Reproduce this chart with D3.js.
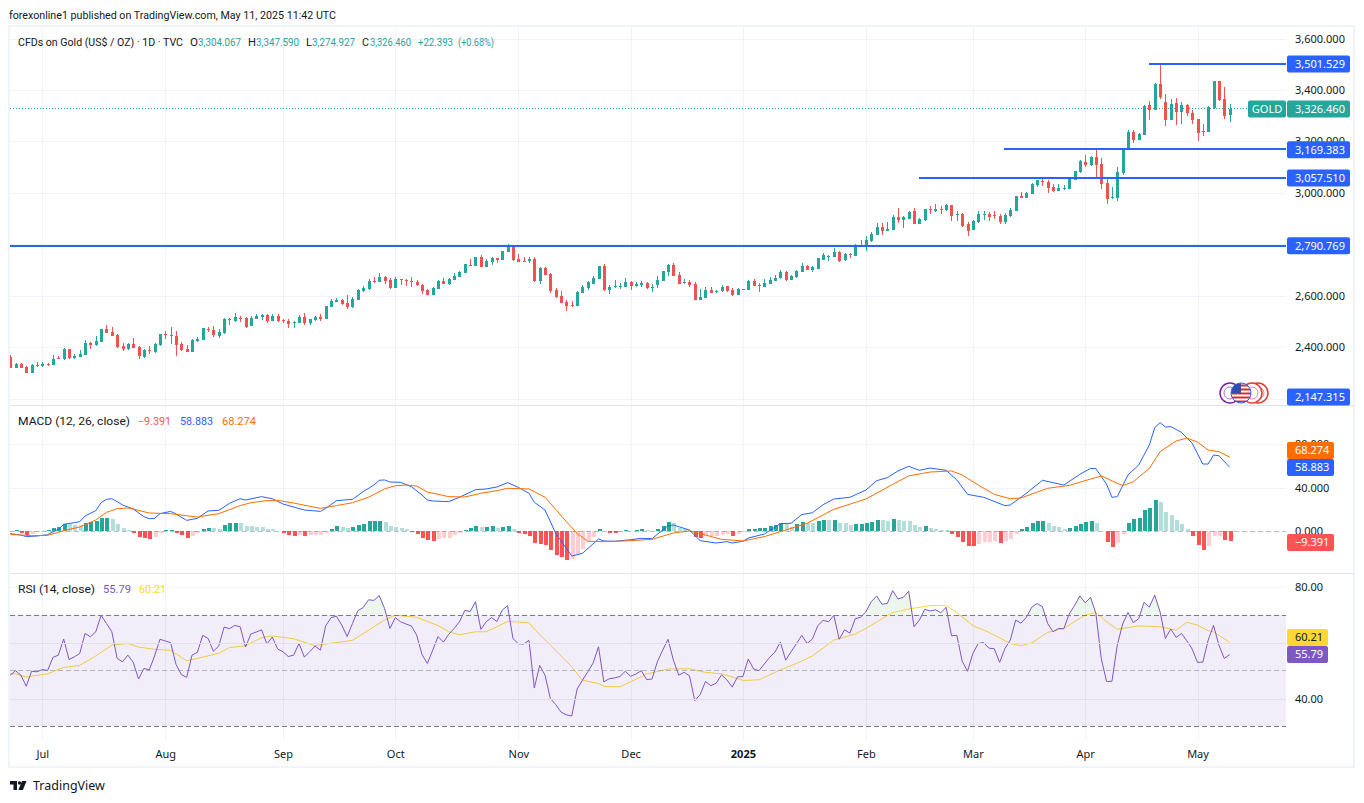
<!DOCTYPE html>
<html>
<head>
<meta charset="utf-8">
<style>
  body { margin: 0; background: #fff; }
  svg { display: block; }
  text { font-family: "Noto Sans", sans-serif; font-size: 11px; fill: #131722; }
  text.legend { font-family: Roboto, sans-serif; }
  .grid path, .tick-labels path { display: none; }
  .grid line { stroke: #f0f3fa; shape-rendering: crispEdges; }
  .tick-labels line { display: none; }
  .crisp { shape-rendering: crispEdges; }
</style>
<script src="https://d3js.org/d3.v7.min.js"></script>
</head>
<body>
<div id="chart"></div>
<script>
const opens = [
  2362,2321,2334,2322,2298,2331,2328,2335,2329,2359,
  2355,2393,2359,2362,2370,2417,2409,2421,2471,2460,
  2448,2405,2393,2413,2401,2362,2390,2382,2409,2452,
  2448,2444,2413,2393,2382,2425,2428,2471,2467,2444,
  2456,2510,2502,2514,2514,2483,2510,2518,2526,2502,
  2522,2506,2502,2494,2494,2518,2494,2506,2518,2510,
  2557,2576,2585,2572,2557,2584,2619,2626,2657,2654,
  2673,2661,2630,2665,2663,2657,2654,2642,2623,2603,
  2626,2657,2646,2661,2673,2689,2720,2716,2751,2712,
  2731,2747,2739,2770,2793,2743,2735,2735,2743,2657,
  2708,2685,2623,2599,2576,2566,2560,2611,2630,2646,
  2665,2716,2623,2634,2635,2634,2654,2638,2642,2650,
  2633,2642,2657,2692,2720,2681,2650,2654,2646,2584,
  2592,2623,2616,2619,2638,2623,2603,2624,2623,2657,
  2643,2634,2646,2657,2669,2692,2661,2673,2692,2716,
  2700,2704,2739,2753,2751,2770,2739,2762,2755,2795,
  2793,2813,2836,2867,2852,2855,2906,2894,2898,2929,
  2879,2894,2937,2929,2937,2933,2953,2914,2918,2879,
  2856,2887,2914,2918,2914,2910,2887,2910,2929,2988,
  2980,2995,3030,3046,3043,3023,3007,3015,3015,3050,
  3081,3120,3108,3139,3112,3038,2980,2980,3077,3170,
  3236,3205,3224,3341,3321,3422,3353,3283,3349,3314,
  3341,3310,3287,3237,3236,3329,3434,3364,3304.067
];
const highs = [
  2370,2338,2338,2328,2335,2343,2343,2339,2370,2366,
  2397,2393,2374,2390,2428,2421,2444,2471,2487,2479,
  2452,2417,2417,2436,2405,2393,2405,2417,2452,2463,
  2479,2463,2421,2409,2432,2440,2475,2479,2483,2471,
  2514,2514,2533,2522,2518,2522,2529,2529,2529,2529,
  2529,2510,2510,2502,2526,2533,2510,2522,2529,2560,
  2588,2592,2588,2603,2595,2626,2638,2665,2673,2689,
  2677,2669,2673,2665,2665,2673,2661,2646,2626,2634,
  2661,2669,2669,2689,2696,2723,2743,2751,2758,2743,
  2751,2747,2774,2801,2797,2762,2751,2751,2751,2712,
  2712,2689,2630,2619,2584,2580,2619,2642,2657,2677,
  2716,2723,2642,2661,2650,2669,2657,2654,2657,2654,
  2646,2677,2696,2723,2727,2692,2665,2661,2654,2626,
  2634,2634,2623,2642,2638,2630,2630,2626,2661,2665,
  2650,2665,2673,2681,2700,2696,2681,2700,2727,2720,
  2716,2747,2766,2758,2786,2774,2766,2766,2801,2817,
  2832,2848,2883,2883,2887,2914,2941,2910,2929,2941,
  2902,2937,2949,2956,2949,2956,2953,2929,2922,2887,
  2895,2929,2929,2925,2929,2918,2922,2941,2988,3003,
  3003,3038,3050,3057,3050,3034,3034,3030,3057,3085,
  3127,3147,3143,3166,3135,3054,3023,3100,3174,3244,
  3244,3232,3341,3356,3426,3501,3384,3364,3368,3353,
  3345,3321,3287,3267,3337,3434,3434,3411,3347.59
];
const lows = [
  2321,2321,2321,2298,2298,2324,2324,2325,2329,2355,
  2351,2355,2355,2362,2370,2393,2405,2421,2456,2444,
  2397,2386,2390,2397,2355,2359,2374,2378,2405,2432,
  2413,2366,2386,2382,2382,2421,2428,2460,2440,2436,
  2452,2487,2498,2498,2475,2483,2510,2506,2494,2502,
  2498,2494,2475,2475,2494,2487,2487,2502,2502,2510,
  2557,2576,2564,2549,2553,2584,2615,2623,2650,2654,
  2646,2626,2630,2642,2638,2634,2638,2607,2603,2603,
  2626,2646,2642,2661,2673,2689,2716,2716,2712,2712,
  2720,2727,2739,2770,2735,2731,2731,2727,2654,2646,
  2681,2611,2592,2572,2541,2557,2560,2611,2623,2646,
  2665,2619,2607,2630,2626,2634,2623,2634,2634,2626,
  2615,2630,2657,2677,2677,2646,2646,2634,2584,2584,
  2592,2611,2611,2615,2615,2599,2603,2624,2623,2638,
  2615,2634,2646,2657,2665,2657,2661,2669,2692,2700,
  2692,2704,2739,2735,2751,2731,2735,2747,2755,2793,
  2774,2809,2836,2836,2852,2855,2883,2863,2898,2879,
  2879,2890,2918,2925,2918,2929,2890,2890,2867,2832,
  2856,2883,2894,2891,2898,2879,2879,2906,2929,2980,
  2980,2995,3023,3026,2999,3003,3007,3011,3015,3050,
  3077,3100,3104,3054,3015,2957,2976,2968,3069,3170,
  3193,3205,3224,3283,3321,3364,3259,3283,3263,3267,
  3298,3267,3201,3221,3236,3325,3356,3287,3274.927
];
const closes = [
  2321,2334,2321,2298,2331,2328,2335,2331,2355,2356,
  2393,2359,2366,2374,2417,2410,2425,2471,2456,2444,
  2401,2393,2413,2397,2366,2390,2386,2413,2452,2448,
  2445,2409,2390,2382,2428,2432,2475,2467,2448,2460,
  2510,2506,2518,2510,2479,2514,2522,2526,2502,2522,
  2502,2502,2491,2498,2518,2494,2510,2518,2510,2560,
  2580,2584,2568,2557,2588,2623,2630,2657,2654,2673,
  2657,2630,2665,2660,2660,2655,2642,2619,2603,2630,
  2657,2646,2665,2677,2692,2723,2717,2751,2712,2735,
  2747,2739,2774,2797,2739,2731,2731,2743,2657,2708,
  2681,2619,2595,2572,2560,2563,2615,2634,2654,2669,
  2716,2623,2634,2637,2638,2654,2638,2646,2651,2630,
  2635,2661,2696,2720,2677,2646,2654,2642,2584,2595,
  2623,2611,2619,2634,2619,2603,2626,2626,2657,2638,
  2641,2650,2661,2669,2692,2661,2677,2696,2716,2700,
  2712,2747,2758,2756,2770,2735,2762,2758,2793,2797,
  2817,2840,2867,2852,2859,2906,2894,2906,2925,2879,
  2898,2937,2933,2937,2933,2953,2910,2918,2871,2852,
  2891,2918,2918,2906,2911,2887,2914,2933,2988,2980,
  2999,3034,3050,3042,3019,3007,3019,3019,3054,3085,
  3124,3108,3139,3108,3034,2976,2984,3081,3174,3236,
  3205,3228,3337,3321,3422,3372,3283,3345,3314,3341,
  3310,3283,3232,3240,3333,3434,3360,3298,3326.46
];

const macdHist = [
  0.3,0.6,-1.8,-3.7,-2.5,-1.2,0.3,0.6,2.8,3.7,
  6.8,6.2,5.5,5.2,7.4,8.3,9.2,12,12.1,11.1,
  6.5,2.8,0.9,-1.5,-5.2,-6.2,-7.4,-5.5,-1.8,0.9,
  1.1,-1.5,-3.7,-6.5,-4.6,-1.5,1.5,3.1,2.5,1.8,
  5.8,7.1,7.7,7.4,4.6,4.5,4,3.8,2.2,2,
  0.3,-2.2,-3.7,-4.6,-3.7,-4.6,-4,-3.8,-3.7,-1.5,
  2.2,4.3,4,3.1,4,5.8,6.8,9.2,9.4,9.5,
  8.3,4.3,4,2.8,1.5,-1.2,-3.1,-6.8,-8.6,-8.9,
  -7.7,-6.8,-6.2,-3.7,-1.8,0.9,2.8,4.6,3.7,4,
  4.2,2.5,3.7,4.6,2.2,-1.5,-3.1,-4.3,-10.8,-11.7,
  -12.9,-17.8,-21.8,-24,-26.5,-25.5,-20.9,-16.6,-9.2,-5.2,
  1.8,0.3,-1.5,-1.7,-0.9,1.2,0.3,1.2,1.4,0.9,
  0.3,2.2,4.6,8.6,7.4,3.1,1.8,0.9,-5.8,-6.8,
  -4.6,-4.5,-4.3,-4,-3.1,-4.6,-2.5,-1.2,2.2,2.3,
  2.5,3.1,4.9,5.5,7.4,6.2,3.7,6.5,8.6,7.7,
  7.4,9.5,10.5,10.2,10.3,7.7,7.5,5.8,6.8,6.9,
  7.4,8.3,10.2,9.8,9.2,11.4,10.2,9.5,9.4,5.8,
  3.4,4.3,3.1,2.2,1.2,0.9,-3.1,-5.2,-9.8,-13.5,
  -13.7,-11.7,-10.2,-9.8,-9.5,-10.8,-9.2,-7.1,-2.5,1.5,
  4,7.1,8.9,9.5,7.7,4.9,3.4,1.8,2.5,4.3,
  6.8,8,8.9,7.1,0.1,-9.8,-14.5,-10.8,-2.5,7.4,
  10.8,11.7,19.7,21.5,28.3,27.1,17.8,14.8,10.2,6.2,
  1.8,-4.9,-12.9,-17.2,-13.5,-4.6,-4.3,-8.6,-9.391
];

// MACD lines were read at the turning points, bar index next to value
const macdBars = [0,2,3,5,7,8,9,10,12,13,14,16,17,18,19,20,21,23,25,26,27,28,30,31,33,35,37,39,41,43,44,47,49,51,53,55,58,59,61,64,66,68,69,70,71,73,75,77,78,79,82,84,87,89,91,93,95,97,98,100,102,104,105,107,110,111,113,116,118,120,123,124,127,129,132,134,135,137,138,141,144,146,148,150,152,154,157,160,162,164,166,168,170,172,175,177,179,182,186,187,190,193,197,200,202,203,205,206,207,209,211,213,214,215,216,217,219,221,223,224,225,226,228];
const macdVals = [-2.5,-3.7,-5.2,-4.6,-3.4,-0.9,1.5,6.2,7.7,8.6,13.8,18.8,26.1,29.2,29.8,27.1,24,20.3,13.2,11.4,11.7,16,18.1,15.7,9.8,11.7,18.5,19.1,25.5,29.8,28.6,31.7,29.8,24.9,22.1,19.4,18.1,20.9,28,29.2,36.3,42.4,46.8,47.1,45.2,44.9,40.9,33.2,28.6,27.7,27.1,31.1,38.1,38.8,40.6,44.6,40.3,34.8,26.5,19.4,-2.2,-16,-23.1,-20.6,-7.4,-9.2,-9.5,-8,-6.8,-7.1,4.9,5.5,0.9,-8.9,-11.1,-9.8,-11.1,-9.5,-6.5,-2.8,6.8,7.1,15.1,16.9,24.3,29.5,31.1,37.8,46.4,49.2,55.4,59.7,56,58.1,56,47.1,33.8,31.1,23.4,24,34.8,46.8,42.4,52.3,57.8,57.5,43.1,31.1,31.7,51.7,60.9,79.4,95.4,100,96,96.3,91,80.9,61.8,61.8,70.1,69.5,58.883];
const signalBars = [0,4,7,9,11,13,16,18,20,22,23,26,28,30,33,35,39,41,43,45,48,50,53,56,58,61,64,67,70,72,74,76,78,82,85,88,91,93,97,100,102,104,106,108,111,115,120,124,127,130,133,137,141,145,149,154,160,165,168,172,176,178,181,184,187,189,194,198,204,208,210,213,215,218,220,222,224,226,228];
const signalVals = [-3.1,-4.3,-4,-1.2,1.5,3.7,10.2,17.2,20.6,21.2,20.3,16.6,16.3,16,14.1,12.9,16,19.7,23.4,26.1,28,28.3,25.8,22.8,20.9,23.4,26.1,31.1,38.8,41.8,42.4,41.5,36,31.7,31.4,34.8,37.2,39.4,38.8,31.1,20,8.6,-2.2,-9.5,-9.8,-9.2,-7.7,-1.8,0,-3.7,-7.7,-9.2,-5.2,0.9,7.1,20,29.5,43,50.8,54.4,55.4,51.7,42.4,33.8,29.8,30.5,39.4,42.1,50.8,41.8,45.5,57.8,73.2,83,85.8,82.1,74.7,73.2,68.274];

const rsiVals = [
  48.4,50.0,48.4,44.4,49.8,49.6,50.4,50.1,54.8,55.6,
  61.4,54.0,55.0,56.2,63.4,62.2,64.0,69.9,67.0,64.0,
  54.4,53.2,55.6,53.0,47.0,50.8,50.3,55.3,61.3,60.7,
  60.1,52.3,48.6,47.6,55.6,56.6,62.7,61.6,57.0,58.9,
  65.7,65.1,66.3,65.8,58.5,63.2,63.9,64.7,59.6,62.1,
  57.8,56.8,55.1,55.6,59.8,54.9,56.8,58.9,57.4,66.2,
  69.1,69.6,66.4,62.3,67.0,71.6,72.7,75.5,75.3,77.0,
  72.4,65.2,69.1,67.6,66.8,66.1,62.8,55.8,52.6,57.4,
  62.3,60.3,63.1,65.2,67.6,71.7,71.3,74.8,64.9,67.6,
  69.1,67.7,71.8,73.4,61.6,59.7,59.6,60.9,43.8,51.9,
  48.4,40.0,37.8,35.1,34.1,33.7,43.4,46.6,49.6,52.8,
  58.6,46.0,47.1,47.4,47.9,49.8,48.0,48.8,50.0,46.8,
  47.0,53.2,57.4,61.3,53.8,48.4,49.4,48.2,39.2,41.4,
  46.1,44.6,45.5,48.5,46.7,44.1,47.8,47.9,54.2,50.6,
  50.0,52.4,54.8,56.7,60.3,53.8,56.8,59.7,62.7,59.8,
  61.4,66.2,68.1,67.6,69.9,61.3,64.7,63.5,68.7,69.2,
  71.2,74.8,76.9,73.9,74.2,78.8,75.8,76.4,78.6,65.8,
  68.2,72.1,71.5,71.9,70.9,72.8,62.6,62.7,53.4,49.8,
  56.2,59.8,60.1,58.1,57.9,53.0,58.0,61.0,68.2,67.1,
  69.2,72.8,74.2,73.0,66.9,64.0,65.2,65.1,70.4,73.4,
  76.9,74.4,76.4,70.6,54.4,46.1,46.2,59.2,66.8,70.9,
  67.3,68.7,74.6,72.9,77.2,71.2,61.6,65.0,62.0,63.4,
  60.8,57.8,53.0,53.1,61.0,66.3,59.2,54.4,55.79
];
const rsiMaBars = [0,1,3,7,10,13,16,19,22,24,27,30,33,35,39,41,44,47,49,53,57,60,64,67,70,72,76,80,82,84,87,89,91,93,97,98,101,103,105,107,110,111,114,116,119,123,127,130,133,137,140,144,147,150,154,158,160,164,165,168,172,175,177,180,183,184,187,189,191,194,197,201,203,205,207,211,215,218,220,222,224,225,228];
const rsiMaVals = [48.8,48.9,47.7,48.9,51.2,51.9,55.3,59.2,59.8,58.5,57.7,57.3,53.6,54.4,56.3,58.3,59,61.9,62.5,61.5,59,59.9,60.9,64.6,68.2,70,69.2,66.2,64,62.9,64,64,65.8,67.7,67.3,65,59.2,55.4,51.4,46.6,45.4,44.4,44.2,46,48.8,50.6,50.7,49.4,48.9,46.5,46.7,50.3,52.6,55.3,61,63.2,65.2,69.8,70.9,72.2,73.4,73.4,70.9,66.2,63.8,62.8,59.8,59,60,63.8,65.2,70,70.9,67.6,64.9,66.1,65.8,64.6,67.4,66.4,64.4,64,60.21];

const monthBars = [6,29,51,72,95,116,137,160,180,201,222];
const monthLabels = ["Jul","Aug","Sep","Oct","Nov","Dec","2025","Feb","Mar","Apr","May"];
const priceTicks = [3600,3400,3200,3000,2600,2400];
const priceGrid = [3600,3400,3200,3000,2800,2600,2400,2200];
const levelPrices = [3501.529,3169.383,3057.51,2790.769];
const levelStartBars = [212.9,185.8,169.9,-1];
const macdTicks = [80,40,0];
const rsiTicks = [80,60,40];

const W = 1364, H = 803;
const plotL = 10, plotR = 1286;
const up = "#26a69a", down = "#ef5350";
const fmtPrice = d3.format(",.3f");

const svg = d3.select("#chart").append("svg").attr("width", W).attr("height", H);

const x = d3.scaleLinear().domain([0, 228]).range([10.2, 1229.6]);
const yPrice = d3.scaleLinear().domain([2400, 3600]).range([347.2, 38.6]);
const yMacd = d3.scaleLinear().domain([0, 80]).range([531, 444.3]);
const yRsi = d3.scaleLinear().domain([30, 80]).range([726.3, 587.3]);

const defs = svg.append("defs");
defs.append("clipPath").attr("id", "plot")
  .append("rect").attr("x", plotL).attr("y", 27).attr("width", plotR - plotL).attr("height", 714);
defs.append("clipPath").attr("id", "over70")
  .append("rect").attr("x", plotL).attr("y", 575).attr("width", plotR - plotL).attr("height", yRsi(70) - 575);
defs.append("clipPath").attr("id", "flag")
  .append("circle").attr("cx", 1241).attr("cy", 393).attr("r", 10);
const grad = defs.append("linearGradient").attr("id", "obFill")
  .attr("x1", 0).attr("x2", 0).attr("y1", 0).attr("y2", 1);
grad.append("stop").attr("offset", "0").attr("stop-color", "#4caf50").attr("stop-opacity", 0.12);
grad.append("stop").attr("offset", "1").attr("stop-color", "#4caf50").attr("stop-opacity", 0.02);

// frame and pane separators
svg.append("rect").attr("class", "crisp").attr("x", 9).attr("y", 26).attr("width", 1345).attr("height", 741)
  .attr("fill", "none").attr("stroke", "#f0f3fa").attr("stroke-width", 2);

// vertical grid, one per pane
[[27, 404], [406, 572], [574, 740]].forEach(([a, b]) => {
  svg.append("g").attr("class", "grid").attr("transform", `translate(0,${b})`)
    .call(d3.axisBottom(x).tickValues(monthBars).tickSize(a - b).tickFormat(""));
});

// price and MACD grid
svg.append("g").attr("class", "grid").attr("transform", `translate(${plotL},0)`)
  .call(d3.axisLeft(yPrice).tickValues(priceGrid).tickSize(plotL - plotR).tickFormat(""));
svg.append("g").attr("class", "grid").attr("transform", `translate(${plotL},0)`)
  .call(d3.axisLeft(yMacd).tickValues(macdTicks.slice(0, 2)).tickSize(plotL - plotR).tickFormat(""));

[405, 573].forEach(y => {
  svg.append("line").attr("class", "crisp").attr("x1", plotL).attr("x2", 1354).attr("y1", y).attr("y2", y)
    .attr("stroke", "#e0e3eb");
});

const plot = svg.append("g").attr("clip-path", "url(#plot)");

// dotted last price line
plot.append("line").attr("x1", plotL).attr("x2", 1248)
  .attr("y1", yPrice(closes[228])).attr("y2", yPrice(closes[228]))
  .attr("stroke", up).attr("stroke-dasharray", "1 2").attr("class", "crisp");

// candles
const bars = d3.range(closes.length);
const px = i => Math.round(x(i));
plot.append("g").selectAll("line").data(bars).join("line")
  .attr("class", "crisp")
  .attr("x1", i => px(i) + 0.5).attr("x2", i => px(i) + 0.5)
  .attr("y1", i => yPrice(highs[i])).attr("y2", i => yPrice(lows[i]))
  .attr("stroke", i => closes[i] >= opens[i] ? up : down);
plot.append("g").selectAll("rect").data(bars).join("rect")
  .attr("class", "crisp")
  .attr("x", i => px(i) - 1).attr("width", 3)
  .attr("y", i => yPrice(Math.max(opens[i], closes[i])))
  .attr("height", i => Math.max(1, Math.abs(yPrice(opens[i]) - yPrice(closes[i]))))
  .attr("fill", i => closes[i] >= opens[i] ? up : down);

// horizontal levels
const levelY = d => Math.round(yPrice(d) - 0.4);
plot.append("g").selectAll("line").data(levelPrices).join("line")
  .attr("class", "crisp")
  .attr("x1", (d, i) => x(levelStartBars[i])).attr("x2", plotR)
  .attr("y1", levelY).attr("y2", levelY)
  .attr("stroke", "#2962ff").attr("stroke-width", 2);

// MACD
svg.append("line").attr("x1", plotL).attr("x2", plotR).attr("y1", yMacd(0)).attr("y2", yMacd(0))
  .attr("stroke", "#787b86").attr("stroke-opacity", 0.5).attr("stroke-dasharray", "5 3").attr("class", "crisp");

const histColor = i => {
  const v = macdHist[i], prev = i ? macdHist[i - 1] : 0;
  if (v >= 0) return v > prev ? "#26a69a" : "#b2dfdb";
  return v < prev ? "#ff5252" : "#ffcdd2";
};
plot.append("g").selectAll("rect").data(bars).join("rect")
  .attr("class", "crisp")
  .attr("x", i => px(i) - 1.5).attr("width", 4)
  .attr("y", i => Math.min(yMacd(0), yMacd(macdHist[i])))
  .attr("height", i => Math.abs(yMacd(macdHist[i]) - yMacd(0)))
  .attr("fill", histColor);

const pathLine = (idx, vals, scale) => d3.line().x(i => x(idx[i])).y(i => scale(vals[i]))(d3.range(vals.length));
plot.append("path").attr("d", pathLine(macdBars, macdVals, yMacd)).attr("fill", "none").attr("stroke", "#2962ff");
plot.append("path").attr("d", pathLine(signalBars, signalVals, yMacd)).attr("fill", "none").attr("stroke", "#ff6d00");

// RSI
svg.append("rect").attr("class", "crisp").attr("x", plotL).attr("width", plotR - plotL)
  .attr("y", yRsi(70)).attr("height", yRsi(30) - yRsi(70)).attr("fill", "#7e57c2").attr("fill-opacity", 0.1);
svg.append("g").attr("class", "grid").attr("transform", `translate(${plotL},0)`)
  .call(d3.axisLeft(yRsi).tickValues(rsiTicks).tickSize(plotL - plotR).tickFormat(""))
  .selectAll("line").style("stroke", d => d === 80 ? "#f0f3fa" : "#e2deee");

[70, 50, 30].forEach(v => {
  svg.append("line").attr("class", "crisp").attr("x1", plotL).attr("x2", plotR)
    .attr("y1", yRsi(v)).attr("y2", yRsi(v))
    .attr("stroke", "#787b86").attr("stroke-opacity", v === 50 ? 0.5 : 1)
    .attr("stroke-dasharray", "5 3");
});

plot.append("path")
  .attr("clip-path", "url(#over70)")
  .attr("d", d3.area().x(i => x(i)).y0(yRsi(70)).y1(i => yRsi(rsiVals[i]))(bars))
  .attr("fill", "url(#obFill)");
plot.append("path").attr("d", pathLine(rsiMaBars, rsiMaVals, yRsi)).attr("fill", "none").attr("stroke", "#fdd835");
plot.append("path").attr("d", d3.line().x(i => x(i)).y(i => yRsi(rsiVals[i]))(bars))
  .attr("fill", "none").attr("stroke", "#7e57c2");

// axis tick labels
svg.append("g").attr("class", "tick-labels").attr("transform", `translate(${plotR},0)`)
  .call(d3.axisRight(yPrice).tickValues(priceTicks).tickSize(0).tickPadding(9).tickFormat(fmtPrice));
svg.append("g").attr("class", "tick-labels").attr("transform", `translate(${plotR},0)`)
  .call(d3.axisRight(yMacd).tickValues(macdTicks).tickSize(0).tickPadding(9).tickFormat(d3.format(",.3f")));
svg.append("g").attr("class", "tick-labels").attr("transform", `translate(${plotR},0)`)
  .call(d3.axisRight(yRsi).tickValues([80, 40]).tickSize(0).tickPadding(9).tickFormat(d3.format(".2f")));
svg.append("g").attr("class", "tick-labels").attr("transform", "translate(0,747)")
  .call(d3.axisBottom(x).tickValues(monthBars).tickSize(0).tickPadding(3).tickFormat((d, i) => monthLabels[i]))
  .selectAll("text").style("font-weight", (d, i) => monthLabels[i] === "2025" ? "700" : "400");

// value tags on the axis
function tag(label, yc, bg, fg, w) {
  const g = svg.append("g");
  g.append("rect").attr("x", 1287).attr("y", yc - 8.5).attr("width", w).attr("height", 17).attr("rx", 2).attr("fill", bg);
  g.append("text").attr("x", 1295).attr("y", yc).attr("dy", "0.35em").style("fill", fg).text(label);
}
tag(fmtPrice(levelPrices[0]), yPrice(levelPrices[0]), "#2962ff", "#fff", 63);
tag(fmtPrice(closes[228]), yPrice(closes[228]), up, "#fff", 63);
tag(fmtPrice(levelPrices[1]), yPrice(levelPrices[1]) + 0.5, "#2962ff", "#fff", 63);
tag(fmtPrice(levelPrices[2]), yPrice(levelPrices[2]), "#2962ff", "#fff", 63);
tag(fmtPrice(levelPrices[3]), yPrice(levelPrices[3]) - 1, "#2962ff", "#fff", 63);
tag("2,147.315", 397, "#2962ff", "#fff", 63);
tag("68.274", 450.5, "#ff6d00", "#fff", 47);
tag("58.883", 467.5, "#2962ff", "#fff", 47);
tag("\u22129.391", 542.5, "#ff5252", "#fff", 47);
tag("60.21", 637.5, "#fdd835", "#131722", 41);
tag("55.79", 654.5, "#7e57c2", "#fff", 41);

svg.append("rect").attr("x", 1248).attr("y", yPrice(closes[228]) - 8.5).attr("width", 38).attr("height", 17).attr("rx", 2).attr("fill", up);
svg.append("text").attr("x", 1267).attr("y", yPrice(closes[228])).attr("dy", "0.35em").attr("text-anchor", "middle").style("fill", "#fff").text("GOLD");

// event markers at the bottom of the price pane
const marks = svg.append("g");
[[1230, "#7b1fa2"], [1258, "#e53935"], [1252, "#e53935"]].forEach(([cx, c]) => {
  marks.append("circle").attr("cx", cx).attr("cy", 393).attr("r", 10).attr("fill", "#fff").attr("stroke", c).attr("stroke-width", 1.5);
  marks.append("circle").attr("cx", cx).attr("cy", 393).attr("r", 6).attr("fill", "none").attr("stroke", c).attr("stroke-opacity", 0.6);
});
const flag = marks.append("g").attr("clip-path", "url(#flag)");
flag.append("rect").attr("x", 1231).attr("y", 383).attr("width", 20).attr("height", 20).attr("fill", "#fff");
d3.range(5).forEach(k => flag.append("rect").attr("x", 1231).attr("y", 384.5 + k * 4).attr("width", 20).attr("height", 2).attr("fill", "#d32f2f"));
flag.append("rect").attr("x", 1231).attr("y", 383).attr("width", 10).attr("height", 10).attr("fill", "#2f4fa8");
marks.append("circle").attr("cx", 1241).attr("cy", 393).attr("r", 10).attr("fill", "none").attr("stroke", "#2962ff").attr("stroke-width", 1);

// headings and legends, width forced to the measured run of each text
function label(xp, yp, s, w, color) {
  svg.append("text").attr("class", "legend").attr("x", xp).attr("y", yp).attr("dy", "0.35em")
    .attr("textLength", w).attr("lengthAdjust", "spacingAndGlyphs")
    .style("fill", color || "#131722").text(s);
}
label(9, 15, "forexonline1 published on TradingView.com, May 11, 2025 11:42 UTC", 327);
label(18, 42, "CFDs on Gold (US$ / OZ) \u00b7 1D \u00b7 TVC", 165);
label(190, 42, "O", 8);
label(198, 42, "3,304.067", 43, up);
label(248, 42, "H", 8);
label(256, 42, "3,347.590", 43, up);
label(306, 42, "L", 6);
label(312, 42, "3,274.927", 43, up);
label(362, 42, "C", 7);
label(370, 42, "3,326.460", 41, up);
label(418, 42, "+22.393", 35, up);
label(458, 42, "(+0.68%)", 36, up);
label(18, 421, "MACD (12, 26, close)", 112);
label(138, 421, "\u22129.391", 33, "#ff5252");
label(180, 421, "58.883", 33, "#2962ff");
label(222, 421, "68.274", 34, "#ff6d00");
label(18, 589, "RSI (14, close)", 77);
label(103, 589, "55.79", 28, "#7e57c2");
label(139, 589, "60.21", 27, "#fdd835");

// TradingView mark
const logo = svg.append("g").attr("fill", "#131722");
logo.append("path").attr("d", "M10 781h7v9h-3.5v-5.5H10z");
logo.append("circle").attr("cx", 19.5).attr("cy", 783).attr("r", 1.7);
logo.append("path").attr("d", "M22 781h4.5l-3.6 9h-4.5z");
svg.append("text").attr("x", 33).attr("y", 790).style("font-size", "12.5px").text("TradingView");
</script>
</body>
</html>
